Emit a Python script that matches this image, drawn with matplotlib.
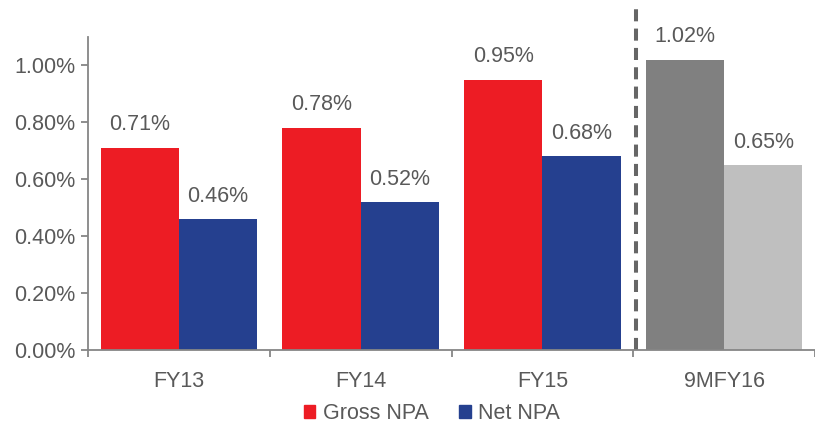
import matplotlib.pyplot as plt
import numpy as np
from matplotlib.patches import Patch

plt.rcParams.update({'font.size': 15.5, 'font.family': 'Liberation Sans'})

categories = ['FY13', 'FY14', 'FY15', '9MFY16']
gross_npa = [0.71, 0.78, 0.95, 1.02]
net_npa = [0.46, 0.52, 0.68, 0.65]
gross_colors = ['#ED1C24', '#ED1C24', '#ED1C24', '#808080']
net_colors = ['#25408F', '#25408F', '#25408F', '#BFBFBF']
txt = '#595959'
spine = '#868686'

fig = plt.figure(figsize=(8.15, 4.29), dpi=100)
ax = fig.add_axes([0.108, 0.184, 0.892, 0.730])

x = np.arange(len(categories))
width = 0.43
ax.bar(x - width / 2, gross_npa, width=width, color=gross_colors)
ax.bar(x + width / 2, net_npa, width=width, color=net_colors)

for i in range(len(categories)):
    ax.annotate('{:.2f}%'.format(gross_npa[i]), (x[i] - width / 2, gross_npa[i]),
                xytext=(0, 9), textcoords='offset points', ha='center', va='bottom', color=txt)
    ax.annotate('{:.2f}%'.format(net_npa[i]), (x[i] + width / 2, net_npa[i]),
                xytext=(0, 9), textcoords='offset points', ha='center', va='bottom', color=txt)

# dashed separator before the 9M figure
ax.plot([2.515, 2.515], [0, 1.22], color='#666666', lw=2.9, ls=(0, (3.0, 1.8)), clip_on=False)

ax.set_xlim(-0.5, 3.5)
ax.set_ylim(0, 1.1)
ax.set_yticks(np.arange(0, 1.01, 0.2))
ax.set_yticklabels(['{:.2f}%'.format(v) for v in np.arange(0, 1.01, 0.2)])
ax.set_xticks(x)
ax.set_xticklabels(categories)
ax.set_xticks(np.arange(-0.5, 3.6, 1), minor=True)
ax.tick_params(axis='x', which='major', length=0, pad=15, colors=txt)
ax.tick_params(axis='x', which='minor', length=5, width=1.3, color=spine, direction='out')
ax.tick_params(axis='y', length=5, width=1.3, color=spine, labelcolor=txt, pad=4)

for s in ['top', 'right']:
    ax.spines[s].set_visible(False)
for s in ['left', 'bottom']:
    ax.spines[s].set_color(spine)
    ax.spines[s].set_linewidth(1.3)

handles = [Patch(color='#ED1C24', label='Gross NPA'), Patch(color='#25408F', label='Net NPA')]
leg = fig.legend(handles=handles, loc='center', bbox_to_anchor=(0.53, 0.035), ncol=2,
                 frameon=False, handlelength=0.55, handleheight=0.55, handletextpad=0.35,
                 columnspacing=1.4)
for t in leg.get_texts():
    t.set_color(txt)

plt.savefig('out.png')
